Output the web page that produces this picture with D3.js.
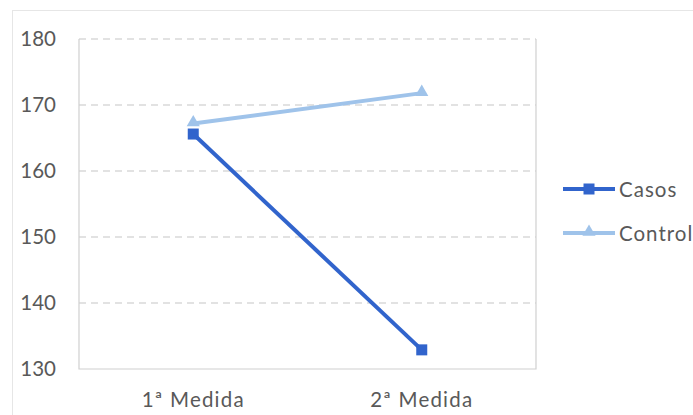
<!DOCTYPE html>
<html><head><meta charset="utf-8">
<script src="https://cdn.jsdelivr.net/npm/d3@7"></script>
<style>body{margin:0;background:#fff}svg{display:block}</style>
</head><body>
<svg id="c" width="693" height="415"></svg>
<script>
const categories = ["1ª Medida", "2ª Medida"];
const casos = [165.6, 132.9];
const control = [167.2, 171.8];
const yTicks = [130, 140, 150, 160, 170, 180];
const seriesNames = ["Casos", "Control"];

const svg = d3.select("#c");
const font = "Lato, 'Open Sans', sans-serif";
const fs = 20.5;
const m = {l: 79, r: 536, t: 39, b: 369};

svg.append("rect").attr("x", 12.5).attr("y", 10.5).attr("width", 700).attr("height", 420)
  .attr("fill", "none").attr("stroke", "#e6e6e6");

const x = d3.scaleBand().domain(categories).range([m.l, m.r]);
const y = d3.scaleLinear().domain([130, 180]).range([m.b, m.t]);

// gridlines
svg.append("g").selectAll("line").data(yTicks.filter(d => d !== 130)).join("line")
  .attr("x1", m.l).attr("x2", m.r).attr("y1", d => y(d)).attr("y2", d => y(d))
  .attr("stroke", "#d9d9d9").attr("stroke-width", 1.5).attr("stroke-dasharray", "7,5");

// plot border
svg.append("path").attr("d", `M${m.l},${m.t}V${m.b}H${m.r}V${m.t}`)
  .attr("fill", "none").attr("stroke", "#d0d0d0").attr("stroke-width", 1.2);

// y axis
const yAxis = d3.axisLeft(y).tickValues(yTicks).tickSize(0).tickPadding(23);
const gy = svg.append("g").attr("transform", `translate(${m.l},0)`).call(yAxis);
gy.select(".domain").remove();
gy.selectAll("text").attr("font-family", font).attr("font-size", fs).attr("fill", "#595959");

// x axis
const xAxis = d3.axisBottom(x).tickSize(0).tickPadding(23);
const gx = svg.append("g").attr("transform", `translate(0,${m.b})`).call(xAxis);
gx.select(".domain").remove();
gx.selectAll("text").attr("font-family", font).attr("font-size", fs).attr("fill", "#595959")
  .attr("letter-spacing", 1.2);

const cx = c => x(c) + x.bandwidth() / 2;
const line = d3.line().x((d, i) => cx(categories[i])).y(d => y(d));

const colCasos = "#3164cc", colControl = "#9fc3ea";

svg.append("path").datum(control).attr("d", line).attr("fill", "none")
  .attr("stroke", colControl).attr("stroke-width", 4);
svg.append("g").selectAll("path").data(control).join("path")
  .attr("d", d3.symbol(d3.symbolTriangle, 75)())
  .attr("transform", (d, i) => `translate(${cx(categories[i])},${y(d) - 1})`)
  .attr("fill", colControl);

svg.append("path").datum(casos).attr("d", line).attr("fill", "none")
  .attr("stroke", colCasos).attr("stroke-width", 4);
svg.append("g").selectAll("rect").data(casos).join("rect")
  .attr("x", (d, i) => cx(categories[i]) - 5.5).attr("y", d => y(d) - 5.5)
  .attr("width", 11).attr("height", 11).attr("fill", colCasos);

// legend
const lg = svg.append("g");
const legendItems = [{name: seriesNames[0], col: colCasos, sym: "sq", y: 189},
                     {name: seriesNames[1], col: colControl, sym: "tri", y: 233}];
legendItems.forEach(it => {
  lg.append("line").attr("x1", 563).attr("x2", 615).attr("y1", it.y).attr("y2", it.y)
    .attr("stroke", it.col).attr("stroke-width", 4);
  if (it.sym === "sq") {
    lg.append("rect").attr("x", 589 - 5.5).attr("y", it.y - 5.5).attr("width", 11).attr("height", 11).attr("fill", it.col);
  } else {
    lg.append("path").attr("d", d3.symbol(d3.symbolTriangle, 75)())
      .attr("transform", `translate(589,${it.y - 1})`).attr("fill", it.col);
  }
  lg.append("text").attr("x", 619).attr("y", it.y + 1).attr("dy", "0.35em")
    .attr("font-family", font).attr("font-size", fs).attr("fill", "#595959")
    .attr("letter-spacing", 1).text(it.name);
});
</script>
</body></html>
